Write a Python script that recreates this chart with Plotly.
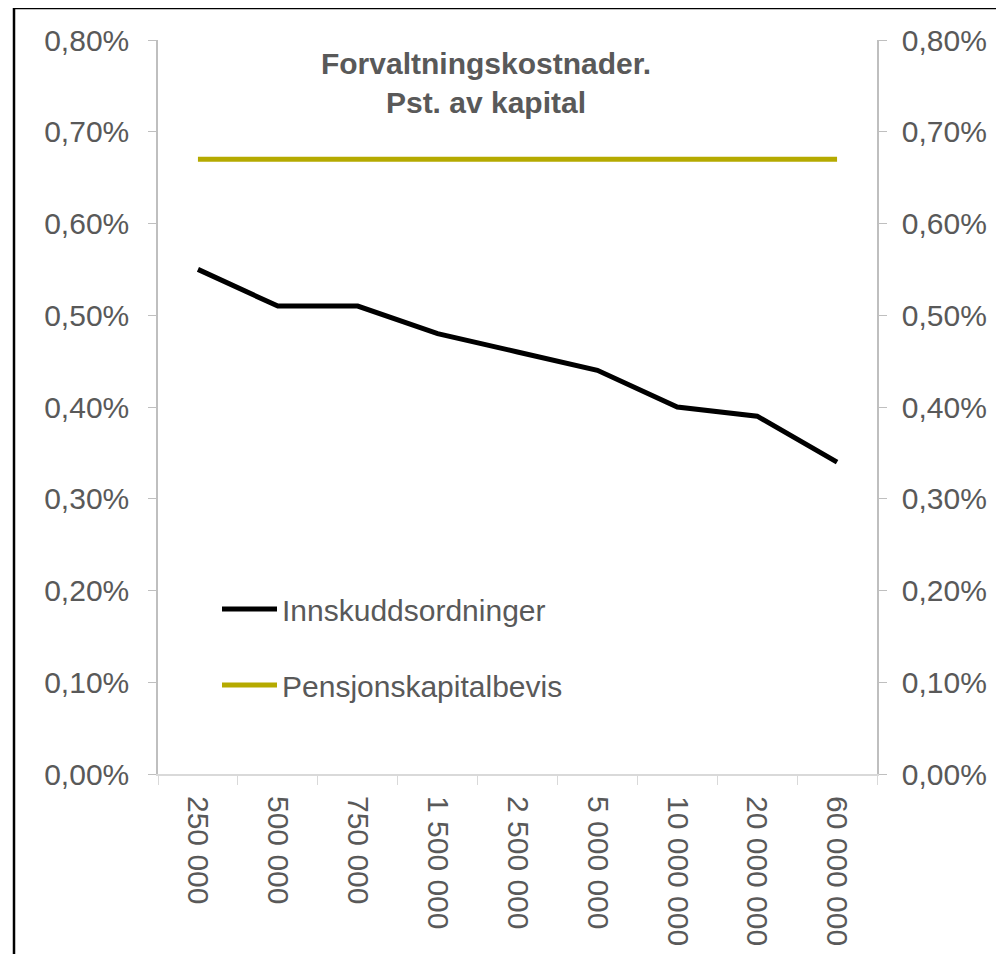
import plotly.graph_objects as go

categories = ["250 000", "500 000", "750 000", "1 500 000", "2 500 000",
              "5 000 000", "10 000 000", "20 000 000", "60 000 000"]
innskudd = [0.55, 0.51, 0.51, 0.48, 0.46, 0.44, 0.40, 0.39, 0.34]
pensjon = [0.67, 0.67, 0.67, 0.67, 0.67, 0.67, 0.67, 0.67, 0.67]
y_ticks = [0.0, 0.1, 0.2, 0.3, 0.4, 0.5, 0.6, 0.7, 0.8]
y_labels = ["0,00%", "0,10%", "0,20%", "0,30%", "0,40%", "0,50%", "0,60%", "0,70%", "0,80%"]

GRAY = "#595959"
FONT = "Liberation Sans, Arial, sans-serif"

# page body has an 8px margin; positions below are given in screen pixels
OFF = 8
W, H = 1004, 954
ML, MT, PW, PH = 158 - OFF, 40 - OFF, 719, 734
MR = W - ML - PW
MB = H - MT - PH

def px_x(p):
    return (p - OFF - ML) / PW

def px_y(p):
    return (MT + PH - (p - OFF)) / PH

fig = go.Figure()
fig.add_trace(go.Scatter(x=categories, y=innskudd, name="Innskuddsordninger",
                         mode="lines", line=dict(color="#000000", width=5),
                         legendgroup="a"))
fig.add_trace(go.Scatter(x=categories, y=pensjon, name="Pensjonskapitalbevis",
                         mode="lines", line=dict(color="#B5AA00", width=5),
                         legendgroup="b", yaxis="y2"))

axis_common = dict(range=[0, 0.8], tickvals=y_ticks, ticktext=y_labels,
                   showgrid=False, zeroline=False, showline=True,
                   linecolor="#BFBFBF", linewidth=1.5, ticks="outside",
                   ticklen=8, tickcolor="#BFBFBF",
                   tickfont=dict(family=FONT, size=30, color=GRAY))

fig.update_layout(
    width=W, height=H,
    margin=dict(l=ML, r=MR, t=MT, b=MB),
    paper_bgcolor="white", plot_bgcolor="white",
    font=dict(family=FONT, color=GRAY),
    title=dict(text="<b>Forvaltningskostnader.<br>Pst. av kapital</b>",
               x=(486 - OFF) / W, xanchor="center", y=1 - 66 / H, yanchor="middle",
               font=dict(family=FONT, size=30, color=GRAY)),
    xaxis=dict(type="category", range=[-0.5, 8.5], showgrid=False, zeroline=False,
               showline=True, linecolor="#D9D9D9", linewidth=2, ticks="outside",
               ticklen=9, tickcolor="#D9D9D9", tickson="boundaries", tickangle=90,
               ticklabelstandoff=14,
               tickfont=dict(family=FONT, size=30, color=GRAY)),
    yaxis=dict(side="left", ticklabelstandoff=13, **axis_common),
    yaxis2=dict(side="right", overlaying="y", ticklabelstandoff=9, **axis_common),
    showlegend=True,
    legend=dict(x=px_x(217), xanchor="left", y=px_y(583), yanchor="top",
                bgcolor="rgba(0,0,0,0)", traceorder="grouped", tracegroupgap=34,
                itemwidth=55,
                font=dict(family=FONT, size=30, color=GRAY)),
    shapes=[dict(type="rect", xref="paper", yref="paper",
                 x0=px_x(14), x1=px_x(1020), y0=px_y(970), y1=px_y(8),
                 line=dict(color="#000000", width=2.5), fillcolor="rgba(0,0,0,0)",
                 layer="above")],
)

fig.write_html("out.html")
